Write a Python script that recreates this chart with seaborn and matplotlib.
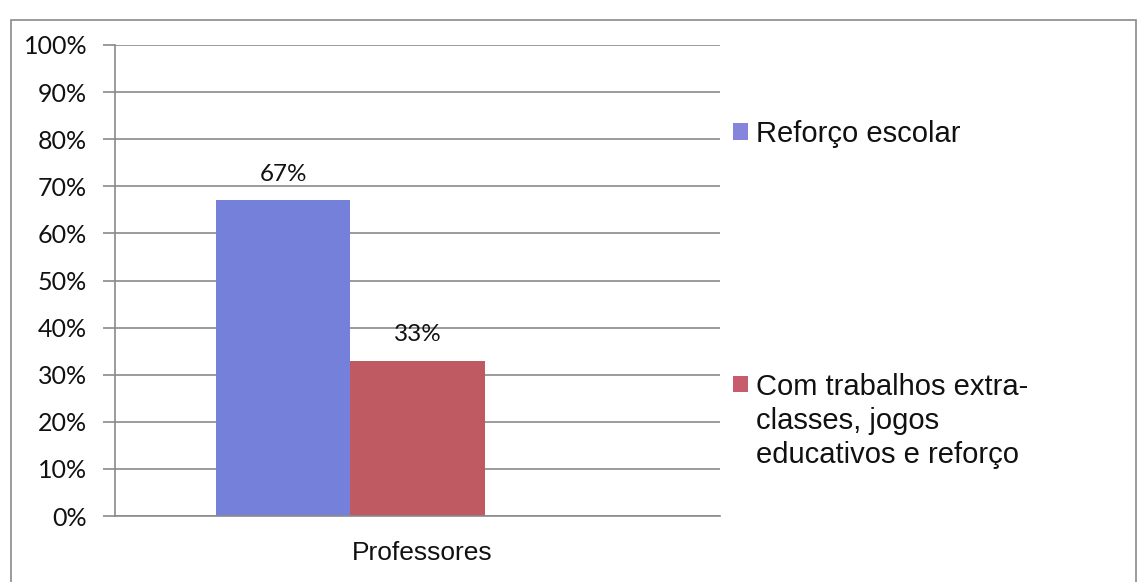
import matplotlib
matplotlib.use("Agg")
import matplotlib.pyplot as plt
import matplotlib.transforms as mtransforms
from matplotlib.patches import Patch, Rectangle
import seaborn as sns
import pandas as pd

# Data
categories = ["Professores"]
series = ["Reforço escolar",
          "Com trabalhos extra-\nclasses, jogos\neducativos e reforço"]
values = [67, 33]
colors = ["#7580DA", "#C05A62"]
legend_colors = ["#8585DC", "#C75C6E"]
y_ticks = [0, 10, 20, 30, 40, 50, 60, 70, 80, 90, 100]

sns.set_theme(style="white")
plt.rcParams["font.family"] = ["Liberation Sans", "DejaVu Sans"]

df = pd.DataFrame({
    "grupo": [categories[0]] * len(series),
    "serie": series,
    "valor": values,
})

W, H = 1142, 582
fig = plt.figure(figsize=(W / 100, H / 100), dpi=100)
ax = fig.add_axes([115 / W, 1 - 516 / H, (720 - 115) / W, (516 - 45) / H])

sns.barplot(data=df, x="grupo", y="valor", hue="serie", hue_order=series,
            palette=colors, width=0.8, saturation=1, dodge=True,
            legend=False, linewidth=0, ax=ax)

ax.set_xlim(-0.70, 1.10)
ax.set_ylim(0, 100)
ax.set_yticks(y_ticks)
ax.set_yticklabels([f"{v}%" for v in y_ticks], family="Lato", fontsize=18)
ax.yaxis.grid(True, color="#8a8a8a", linewidth=1.2)
ax.set_axisbelow(True)
ax.tick_params(axis="y", left=True, length=9, width=1.2, color="#8a8a8a",
               pad=11, labelcolor="#111111")
ax.tick_params(axis="x", bottom=False, pad=12, labelsize=19,
               labelcolor="#111111")
ax.set_xlabel("")
ax.set_ylabel("")
for side in ["top", "right"]:
    ax.spines[side].set_visible(False)
for side in ["left", "bottom"]:
    ax.spines[side].set_color("#8a8a8a")
    ax.spines[side].set_linewidth(1.2)

# Category label sits under the middle of the plotting area
offset = mtransforms.ScaledTranslation(72 / 100, 0, fig.dpi_scale_trans)
for lbl in ax.get_xticklabels():
    lbl.set_transform(lbl.get_transform() + offset)

for cont in ax.containers:
    ax.bar_label(cont, fmt="%d%%", padding=11, fontsize=17.5, family="Lato",
                 color="#111111")

# Legend entries placed beside the plot
h1 = Patch(facecolor=legend_colors[0], edgecolor="none")
h2 = Patch(facecolor=legend_colors[1], edgecolor="none")
common = dict(frameon=False, handlelength=0.5, handleheight=0.5,
              handletextpad=0.3, borderpad=0, borderaxespad=0,
              bbox_transform=fig.transFigure, prop={"size": 21})
leg1 = ax.legend([h1], [series[0]], loc="center left",
                 bbox_to_anchor=(733 / W, 1 - 134 / H), **common)
ax.add_artist(leg1)
leg2 = ax.legend([h2], [series[1]], loc="center left",
                 bbox_to_anchor=(733 / W, 1 - 421 / H), **common)
for t in leg1.get_texts() + leg2.get_texts():
    t.set_color("#111111")
    t.set_linespacing(1.26)

# Marker of the multi-line entry lines up with its first text line
mark = leg2.legend_handles[0]
mark.set_y(mark.get_y() + 27)

# Outer chart frame
fig.patches.append(Rectangle((11 / W, -0.02), (1136 - 11) / W, 1 - 20 / H + 0.02,
                             transform=fig.transFigure, fill=False,
                             edgecolor="#8a8a8a", linewidth=1.2))

fig.savefig("out.png", dpi=100, facecolor="white")
